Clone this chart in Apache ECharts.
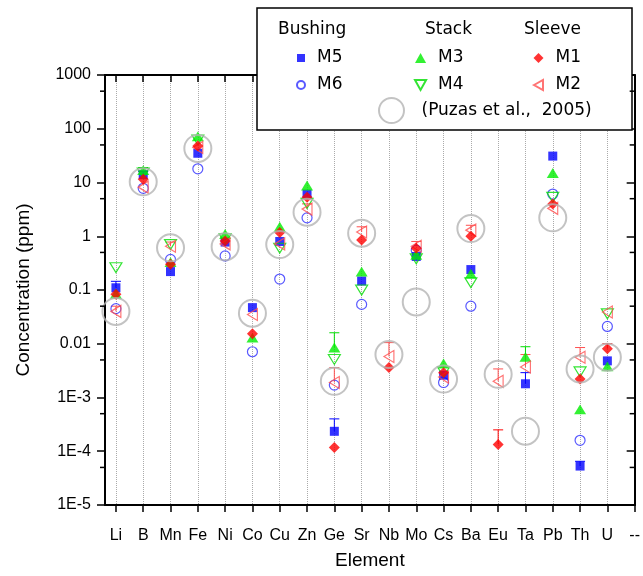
<!DOCTYPE html>
<html><head><meta charset="utf-8">
<script src="https://cdn.jsdelivr.net/npm/echarts@6/dist/echarts.min.js"></script>
<style>html,body{margin:0;padding:0;background:#fff}#c{width:643px;height:576px}</style>
</head><body><div id="c"></div>
<script>
// ---- data ----
const elements = ['Li','B','Mn','Fe','Ni','Co','Cu','Zn','Ge','Sr','Nb','Mo','Cs','Ba','Eu','Ta','Pb','Th','U'];
const xTickLabels = ['Li','B','Mn','Fe','Ni','Co','Cu','Zn','Ge','Sr','Nb','Mo','Cs','Ba','Eu','Ta','Pb','Th','U','--'];
const yTickLabels = ['1E-5','1E-4','1E-3','0.01','0.1','1','10','100','1000'];
const yMinorTicks = [5e-5, 5e-4, 5e-3, 0.05, 0.5, 5, 50, 500];
//            Li     B    Mn    Fe   Ni    Co      Cu    Zn   Ge       Sr     Nb      Mo    Cs      Ba    Eu       Ta       Pb   Th       U
const M5 = [0.11,  14,  0.22, 35,  0.78, 0.047,  0.8,  6.1, 2.35e-4, 0.147, null,   0.42, 0.0026, 0.24, null,    0.0018,  31,  5.3e-5,  0.0048];
const M6 = [0.045, 7.8, 0.37, 18,  0.43, 0.0071, 0.16, 2.2, 0.0017,  0.054, null,   0.55, 0.0019, 0.05, null,    null,    6.1, 1.6e-4,  0.021];
const M3 = [0.085, 17,  0.33, 72,  1.1,  0.013,  1.5,  8.8, 0.0085,  0.22,  null,   0.45, 0.0043, 0.2,  null,    0.0057,  15,  6.0e-4,  0.0038];
const M4 = [0.26,  15,  0.7,  62,  0.9,  null,   0.6,  4.1, 0.0051,  0.1,   null,   0.38, 0.003,  0.137,null,    null,    5.3, 0.003,   0.036];
const M1 = [0.083, 11.5,0.3,  48,  0.82, 0.0154, 1.17, 5.3, 1.17e-4, 0.85,  0.0036, 0.6,  0.0029, 1.0,  1.34e-4, null,    4.0, 0.0022,  0.0081];
const M2 = [0.04,  8.2, 0.65, 45,  0.72, 0.035,  0.72, 3.2, 0.0019,  1.2,   0.0058, 0.65, 0.0024, 1.3,  0.002,   0.0037,  3.3, 0.0056,  0.039];
const Puzas = [0.04, 10.3, 0.61, 43, 0.64, 0.037, 0.7, 2.8, 0.002, 1.14, 0.0063, 0.06, 0.0022, 1.39, 0.0027, 2.36e-4, 2.2, 0.0034, 0.0056];
// upper ends of error bars (null = none visible)
const M5err = [0.145, 16, null, null, null, null, null, null, 4e-4, null, null, null, null, null, null, 0.0029, null, 6.5e-5, null];
const M3err = [null, 19, null, null, null, null, null, null, 0.016, null, null, null, null, null, null, 0.0088, null, null, null];
const M1err = [null, null, null, null, null, null, null, null, null, null, null, null, null, null, 2.5e-4, null, null, null, 0.01];
const M2err = [0.05, null, 0.78, null, null, null, null, 4.0, 0.0036, 1.5, 0.0105, 0.8, null, 1.6, 0.0034, 0.0063, null, 0.0085, null];

// ---- helpers ----
function pts(arr){ const out=[]; arr.forEach((v,i)=>{ if(v!=null) out.push([i+1,v]); }); return out; }
function errPts(vals, errs){ const out=[]; errs.forEach((e,i)=>{ if(e!=null && vals[i]!=null) out.push([i+1, vals[i], e]); }); return out; }
function errSeries(vals, errs, color){
  return {
    type:'custom', xAxisIndex:0, yAxisIndex:0, z:1, silent:true,
    data: errPts(vals, errs),
    renderItem(params, api){
      const x=api.value(0), lo=api.value(1), hi=api.value(2);
      const p1=api.coord([x,lo]), p2=api.coord([x,hi]);
      return {type:'group', children:[
        {type:'line', shape:{x1:p1[0],y1:p1[1],x2:p2[0],y2:p2[1]}, style:{stroke:color,lineWidth:1}},
        {type:'line', shape:{x1:p2[0]-5,y1:p2[1],x2:p2[0]+5,y2:p2[1]}, style:{stroke:color,lineWidth:1}}
      ]};
    }
  };
}
const tickVals = xTickLabels.map((_,i)=>i+1);
const AX = 'Liberation Sans';
const LG = 'DejaVu Sans';
const clear = 'rgba(0,0,0,0)';
const SQUARE = 'path://M0,0 L10,0 L10,10 L0,10 Z';
const UP = 'path://M5,0 L10,9 L0,9 Z';
const DOWN = 'path://M0,0 L10,0 L5,9 Z';
const LEFT = 'path://M0,5 L9,0 L9,10 Z';
const DIAMOND = 'path://M5,0 L10,5 L5,10 L0,5 Z';
const legendText = {color:'#000', fontSize:17, fontFamily:LG, lineHeight:20};

const chart = echarts.init(document.getElementById('c'), null, {renderer:'canvas'});
chart.setOption({
  animation:false,
  backgroundColor:'#fff',
  grid:{left:105, right:5, top:75, bottom:71, containLabel:false},
  xAxis:[{
    type:'value', min:0.6, max:20, position:'bottom',
    axisLine:{show:true, onZero:false, lineStyle:{color:'#000', width:2}},
    axisTick:{show:true, customValues:tickVals, inside:false, length:7, lineStyle:{color:'#000', width:1.5}},
    axisLabel:{show:true, customValues:tickVals, formatter:v=>xTickLabels[Math.round(v)-1]||'', color:'#000', fontSize:16, fontFamily:AX, margin:23},
    splitLine:{show:true, lineStyle:{color:'#aaa', type:'dotted', width:1}},
    name:'Element', nameLocation:'middle', nameGap:46,
    nameTextStyle:{color:'#000', fontSize:19, fontFamily:AX}
  },{
    type:'value', min:0.6, max:20, position:'top',
    axisLine:{show:true, onZero:false, lineStyle:{color:'#000', width:2}},
    axisTick:{show:true, customValues:tickVals, inside:true, length:7, lineStyle:{color:'#000', width:1.5}},
    axisLabel:{show:false}, splitLine:{show:false}
  }],
  yAxis:[{
    type:'log', logBase:10, min:1e-5, max:1000, position:'left',
    axisLine:{show:true, onZero:false, lineStyle:{color:'#000', width:2}},
    axisTick:{show:true, inside:false, length:8, lineStyle:{color:'#000', width:1.5}},
    axisLabel:{formatter:v=>yTickLabels[Math.round(Math.log10(v))+5]||'', color:'#000', fontSize:16, fontFamily:AX, margin:14},
    splitLine:{show:false},
    name:'Concentration (ppm)', nameLocation:'middle', nameGap:72,
    nameTextStyle:{color:'#000', fontSize:19, fontFamily:AX}
  },{
    type:'log', logBase:10, min:1e-5, max:1000, position:'right',
    axisLine:{show:true, onZero:false, lineStyle:{color:'#000', width:2}},
    axisTick:{show:true, inside:true, length:8, lineStyle:{color:'#000', width:1.5}},
    axisLabel:{show:false}, splitLine:{show:false}
  }],
  legend:[
    {data:['M5','M6'], orient:'vertical', left:291, top:43, itemWidth:22, itemHeight:8, itemGap:7, selectedMode:false, z:10, textStyle:legendText},
    {data:['M3','M4'], orient:'vertical', left:409, top:43, itemWidth:25, itemHeight:10, itemGap:7, selectedMode:false, z:10, textStyle:legendText},
    {data:['M1','M2'], orient:'vertical', left:528, top:43, itemWidth:24, itemHeight:10, itemGap:7, selectedMode:false, z:10, textStyle:legendText},
    {data:['(Puzas et al.,  2005)'], orient:'vertical', left:373, top:92, itemWidth:50, itemHeight:25, selectedMode:false, z:10, textStyle:legendText}
  ],
  graphic:[
    {type:'rect', z:5, shape:{x:257, y:8, width:375, height:122}, style:{fill:'#fff', stroke:'#000', lineWidth:1.5}},
    {type:'text', z:11, x:278, y:30, style:{text:'Bushing', font:'17px "DejaVu Sans"', fill:'#000', verticalAlign:'middle'}},
    {type:'text', z:11, x:425, y:30, style:{text:'Stack', font:'17px "DejaVu Sans"', fill:'#000', verticalAlign:'middle'}},
    {type:'text', z:11, x:524, y:30, style:{text:'Sleeve', font:'17px "DejaVu Sans"', fill:'#000', verticalAlign:'middle'}}
  ],
  series:[
    {type:'custom', xAxisIndex:0, yAxisIndex:0, silent:true, clip:false, z:6,
     data: yMinorTicks.map(v=>[1, v]),
     renderItem(params, api){
       const cs = params.coordSys;
       const y = api.coord([1, api.value(1)])[1];
       return {type:'group', children:[
         {type:'line', shape:{x1:cs.x-5, y1:y, x2:cs.x, y2:y}, style:{stroke:'#000', lineWidth:1.5}},
         {type:'line', shape:{x1:cs.x+cs.width-5, y1:y, x2:cs.x+cs.width, y2:y}, style:{stroke:'#000', lineWidth:1.5}}
       ]};
     }},
    errSeries(M5, M5err, '#0000ff'),
    errSeries(M3, M3err, '#00dd00'),
    errSeries(M1, M1err, '#ff0000'),
    errSeries(M2, M2err, '#ff5050'),
    {name:'M6', type:'scatter', data:pts(M6), symbol:'circle', symbolSize:10, symbolKeepAspect:true, z:2,
     itemStyle:{color:clear, borderColor:'#3030ff', borderWidth:1.2}},
    {name:'M5', type:'scatter', data:pts(M5), symbol:SQUARE, symbolSize:9, symbolKeepAspect:true, z:2,
     itemStyle:{color:'#0000ff'}},
    {name:'M4', type:'scatter', data:pts(M4), symbol:DOWN, symbolSize:[12,11], symbolKeepAspect:true, z:2,
     itemStyle:{color:clear, borderColor:'#00dd00', borderWidth:1.2}},
    {name:'M3', type:'scatter', data:pts(M3), symbol:UP, symbolSize:[12,11], symbolKeepAspect:true, z:2,
     itemStyle:{color:'#00ee00'}},
    {name:'M2', type:'scatter', data:pts(M2), symbol:LEFT, symbolSize:[11,12], symbolKeepAspect:true, z:2,
     itemStyle:{color:clear, borderColor:'#ff5050', borderWidth:1.2}},
    {name:'M1', type:'scatter', data:pts(M1), symbol:DIAMOND, symbolSize:11, symbolKeepAspect:true, z:2,
     itemStyle:{color:'#ff0000'}},
    {name:'(Puzas et al.,  2005)', type:'scatter', data:pts(Puzas), symbol:'circle', symbolSize:27, symbolKeepAspect:true, z:3,
     itemStyle:{color:clear, borderColor:'#b4b4b4', borderWidth:2}}
  ]
});
</script></body></html>
